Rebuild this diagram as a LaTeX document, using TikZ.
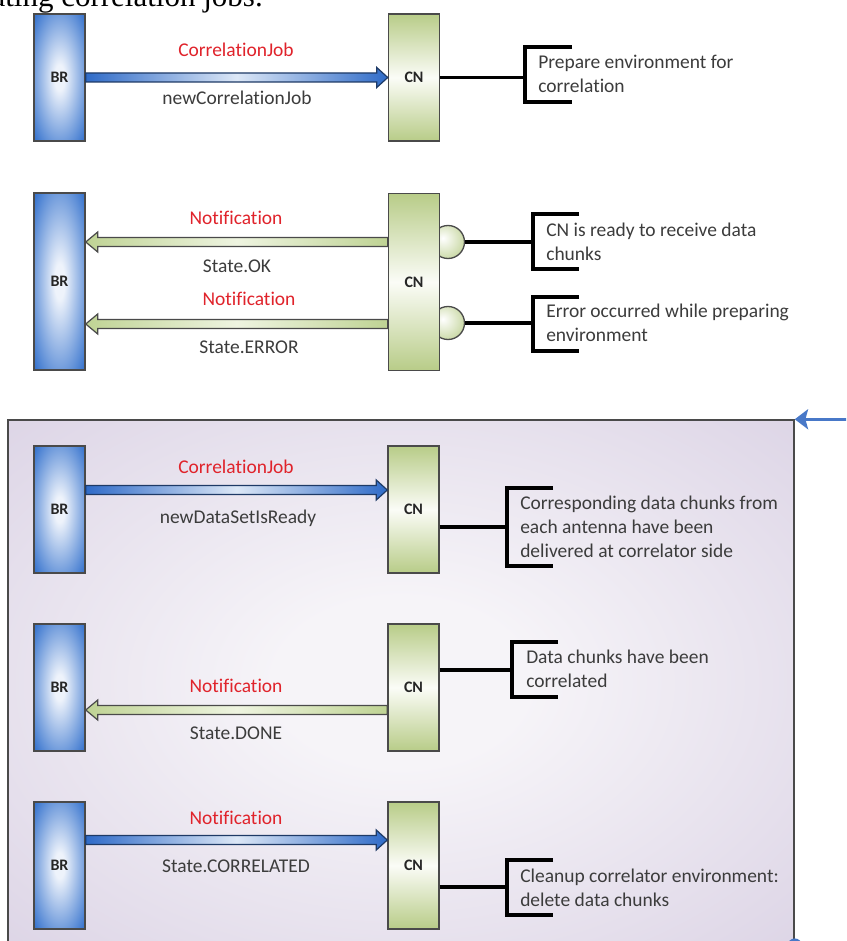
\documentclass[tikz,border=0pt]{standalone}
\usepackage{fontspec}
\setmainfont[Ligatures=NoCommon]{Carlito}
\newfontfamily\headserif{Liberation Serif}
\usetikzlibrary{calc,arrows.meta}

\definecolor{brblue}{HTML}{2C6CCB}
\definecolor{brlight}{HTML}{EEF3FB}
\definecolor{cngreen}{HTML}{B8CC88}
\definecolor{cnlight}{HTML}{FBFCF7}
\definecolor{edgegray}{HTML}{4A4A4A}
\definecolor{msgred}{HTML}{E0232B}
\definecolor{txtgray}{HTML}{3C3C3C}
\definecolor{arrblue}{HTML}{2F6BC8}
\definecolor{arrbluelight}{HTML}{DCE7F6}
\definecolor{arrnavy}{HTML}{1E3A66}
\definecolor{arrgreen}{HTML}{BFD394}
\definecolor{arrgreenlight}{HTML}{EEF4E0}
\definecolor{panelpurple}{HTML}{D0C5DD}
\definecolor{panellight}{HTML}{F6F4F8}
\definecolor{linkblue}{HTML}{4878C8}

\pgfdeclareradialshading{brshade}{\pgfpoint{0bp}{0bp}}{color(0bp)=(brlight); color(5bp)=(brlight); color(36bp)=(brblue); color(50bp)=(brblue); color(72bp)=(brblue)}
\pgfdeclareradialshading{ballshade}{\pgfpoint{-8bp}{6bp}}{color(0bp)=(white); color(8bp)=(white!80!cngreen); color(40bp)=(cngreen); color(72bp)=(cngreen)}
\pgfdeclareradialshading{panelshade}{\pgfpoint{0bp}{0bp}}{color(0bp)=(panellight); color(8bp)=(panellight); color(50bp)=(panelpurple); color(72bp)=(panelpurple)}

\newcommand\msgright[3]{%
  \shadedraw[#3] ($(#1)+(0,-4.5)$) -- ($(#2)+(-11,-4.5)$) -- ($(#2)+(-11,-10)$) -- (#2)
    -- ($(#2)+(-11,10)$) -- ($(#2)+(-11,4.5)$) -- ($(#1)+(0,4.5)$) -- cycle;}
\newcommand\msgleft[3]{%
  \shadedraw[#3] ($(#1)+(0,-4.5)$) -- ($(#2)+(12,-4.5)$) -- ($(#2)+(12,-10)$) -- (#2)
    -- ($(#2)+(12,10)$) -- ($(#2)+(12,4.5)$) -- ($(#1)+(0,4.5)$) -- cycle;}

\begin{document}
\begin{tikzpicture}[x=0.75pt,y=-0.75pt,
  brbox/.style={draw=edgegray, line width=1.1pt, shade, shading=brshade,
    minimum width=38.25pt, inner sep=0pt, text=black!85,
    font=\bfseries\fontsize{12}{14}\selectfont},
  cnbox/.style={draw=edgegray, line width=1.1pt, top color=cngreen, bottom color=cngreen,
    middle color=cnlight, minimum width=38.25pt, inner sep=0pt, text=black!85,
    font=\bfseries\fontsize{12}{14}\selectfont},
  short/.style={minimum height=95.25pt},
  tall/.style={minimum height=132.75pt},
  ballnode/.style={circle, draw=edgegray, line width=1pt, shade, shading=ballshade,
    minimum size=24.75pt, inner sep=0pt},
  bluemsg/.style={draw=arrnavy, line width=0.9pt, left color=arrblue, right color=arrblue,
    middle color=arrbluelight, line join=miter},
  greenmsg/.style={draw=edgegray, line width=0.9pt, left color=arrgreen, right color=arrgreen,
    middle color=arrgreenlight, line join=miter},
  redlbl/.style={text=msgred, font=\fontsize{14.6}{17}\selectfont, inner sep=0pt},
  graylbl/.style={text=txtgray, font=\fontsize{14.6}{17}\selectfont, inner sep=0pt},
  note/.style={anchor=west, align=left, text=txtgray, inner sep=0pt,
    font=\fontsize{14.6}{18}\selectfont},
  bracket/.style={draw=black, line width=2.5pt},
  panelbox/.style={draw=edgegray, line width=1.1pt, shade, shading=panelshade,
    minimum width=589.5pt, minimum height=393.75pt, inner sep=0pt},
  linkarrow/.style={draw=linkblue, line width=2.2pt, -{Stealth[length=10pt,width=15pt,inset=2pt]}}
]
\clip (0,0) rectangle (846,941);
\fill[white] (0,0) rectangle (846,941);

% heading fragment
\node[anchor=base east, inner sep=0pt, font=\headserif\fontsize{23.25}{28}\selectfont] (head) at (263,7) {ating correlation jobs.};

% ---------- panel 1 ----------
\node[brbox, short] (br1) at (59.5,77.5) {BR};
\node[cnbox, short] (cn1) at (414,77.5) {CN};
\msgright{br1.east}{cn1.west}{bluemsg}
\node[redlbl] (l1a) at (236,50) {CorrelationJob};
\node[graylbl] (l1b) at (237,98) {newCorrelationJob};
\coordinate (k1) at (525,77.5);
\draw[bracket] (cn1.east) -- (k1);
\draw[bracket] (572,47) -| (525,102) -- (572,102);
\node[note] (n1) at (538,74) {Prepare environment for\\correlation};

% ---------- panel 2 ----------
\node[brbox, tall] (br2) at (59.5,281.5) {BR};
\node[ballnode] (ball1) at (448,242) {};
\node[ballnode] (ball2) at (448,323) {};
\node[cnbox, tall] (cn2) at (414,282) {CN};
\coordinate (a2s) at (cn2.west |- 0,242);
\coordinate (a2e) at (br2.east |- 0,242);
\msgleft{a2s}{a2e}{greenmsg}
\coordinate (a3s) at (cn2.west |- 0,324);
\coordinate (a3e) at (br2.east |- 0,324);
\msgleft{a3s}{a3e}{greenmsg}
\node[redlbl] (l2a) at (236,218) {Notification};
\node[graylbl] (l2b) at (237,266) {State.OK};
\node[redlbl] (l3a) at (249,299) {Notification};
\node[graylbl] (l3b) at (249,347) {State.ERROR};
\coordinate (k2) at (533,242);
\draw[bracket] (ball1.east) -- (k2);
\draw[bracket] (579,214) -| (533,269) -- (579,269);
\node[note] (n2) at (546,242) {CN is ready to receive data\\chunks};
\coordinate (k3) at (533,323);
\draw[bracket] (ball2.east) -- (k3);
\draw[bracket] (579,297) -| (533,351) -- (579,351);
\node[note] (n3) at (546,322.5) {Error occurred while preparing\\environment};

% ---------- purple panel ----------
\node[panelbox] (panel) at (401,682.5) {};
\coordinate (inarr) at ($(panel.north east)+(54,0)$);
\draw[linkarrow] (inarr) -- (panel.north east);
\fill[linkblue] (panel.south east) circle (5.5pt);

% ---------- panel 3 ----------
\node[brbox, short] (br3) at (59.5,509.5) {BR};
\node[cnbox, short] (cn3) at (413.5,509.5) {CN};
\coordinate (a4s) at (br3.east |- 0,490);
\coordinate (a4e) at (cn3.west |- 0,490);
\msgright{a4s}{a4e}{bluemsg}
\node[redlbl] (l4a) at (236,467) {CorrelationJob};
\node[graylbl] (l4b) at (238,518) {newDataSetIsReady};
\coordinate (k4) at (507,527);
\draw[bracket] (cn3.east |- k4) -- (k4);
\draw[bracket] (553,488) -| (507,566) -- (553,566);
\node[note] (n4) at (520,527) {Corresponding data chunks from\\each antenna have been\\delivered at correlator side};

% ---------- panel 4 ----------
\node[brbox, short] (br4) at (59.5,687.5) {BR};
\node[cnbox, short] (cn4) at (413.5,687.5) {CN};
\coordinate (a5s) at (cn4.west |- 0,710);
\coordinate (a5e) at (br4.east |- 0,710);
\msgleft{a5s}{a5e}{greenmsg}
\node[redlbl] (l5a) at (236,686) {Notification};
\node[graylbl] (l5b) at (236,733) {State.DONE};
\coordinate (k5) at (512,670);
\draw[bracket] (cn4.east |- k5) -- (k5);
\draw[bracket] (558,642) -| (512,697) -- (558,697);
\node[note] (n5) at (526,669) {Data chunks have been\\correlated};

% ---------- panel 5 ----------
\node[brbox, short] (br5) at (59.5,865.5) {BR};
\node[cnbox, short] (cn5) at (413.5,865.5) {CN};
\coordinate (a6s) at (br5.east |- 0,840);
\coordinate (a6e) at (cn5.west |- 0,840);
\msgright{a6s}{a6e}{bluemsg}
\node[redlbl] (l6a) at (236,818) {Notification};
\node[graylbl] (l6b) at (236,866) {State.CORRELATED};
\coordinate (k6) at (507,887);
\draw[bracket] (cn5.east |- k6) -- (k6);
\draw[bracket] (553,860) -| (507,915) -- (553,915);
\node[note] (n6) at (520,887.5) {Cleanup correlator environment:\\delete data chunks};
\end{tikzpicture}
\end{document}
